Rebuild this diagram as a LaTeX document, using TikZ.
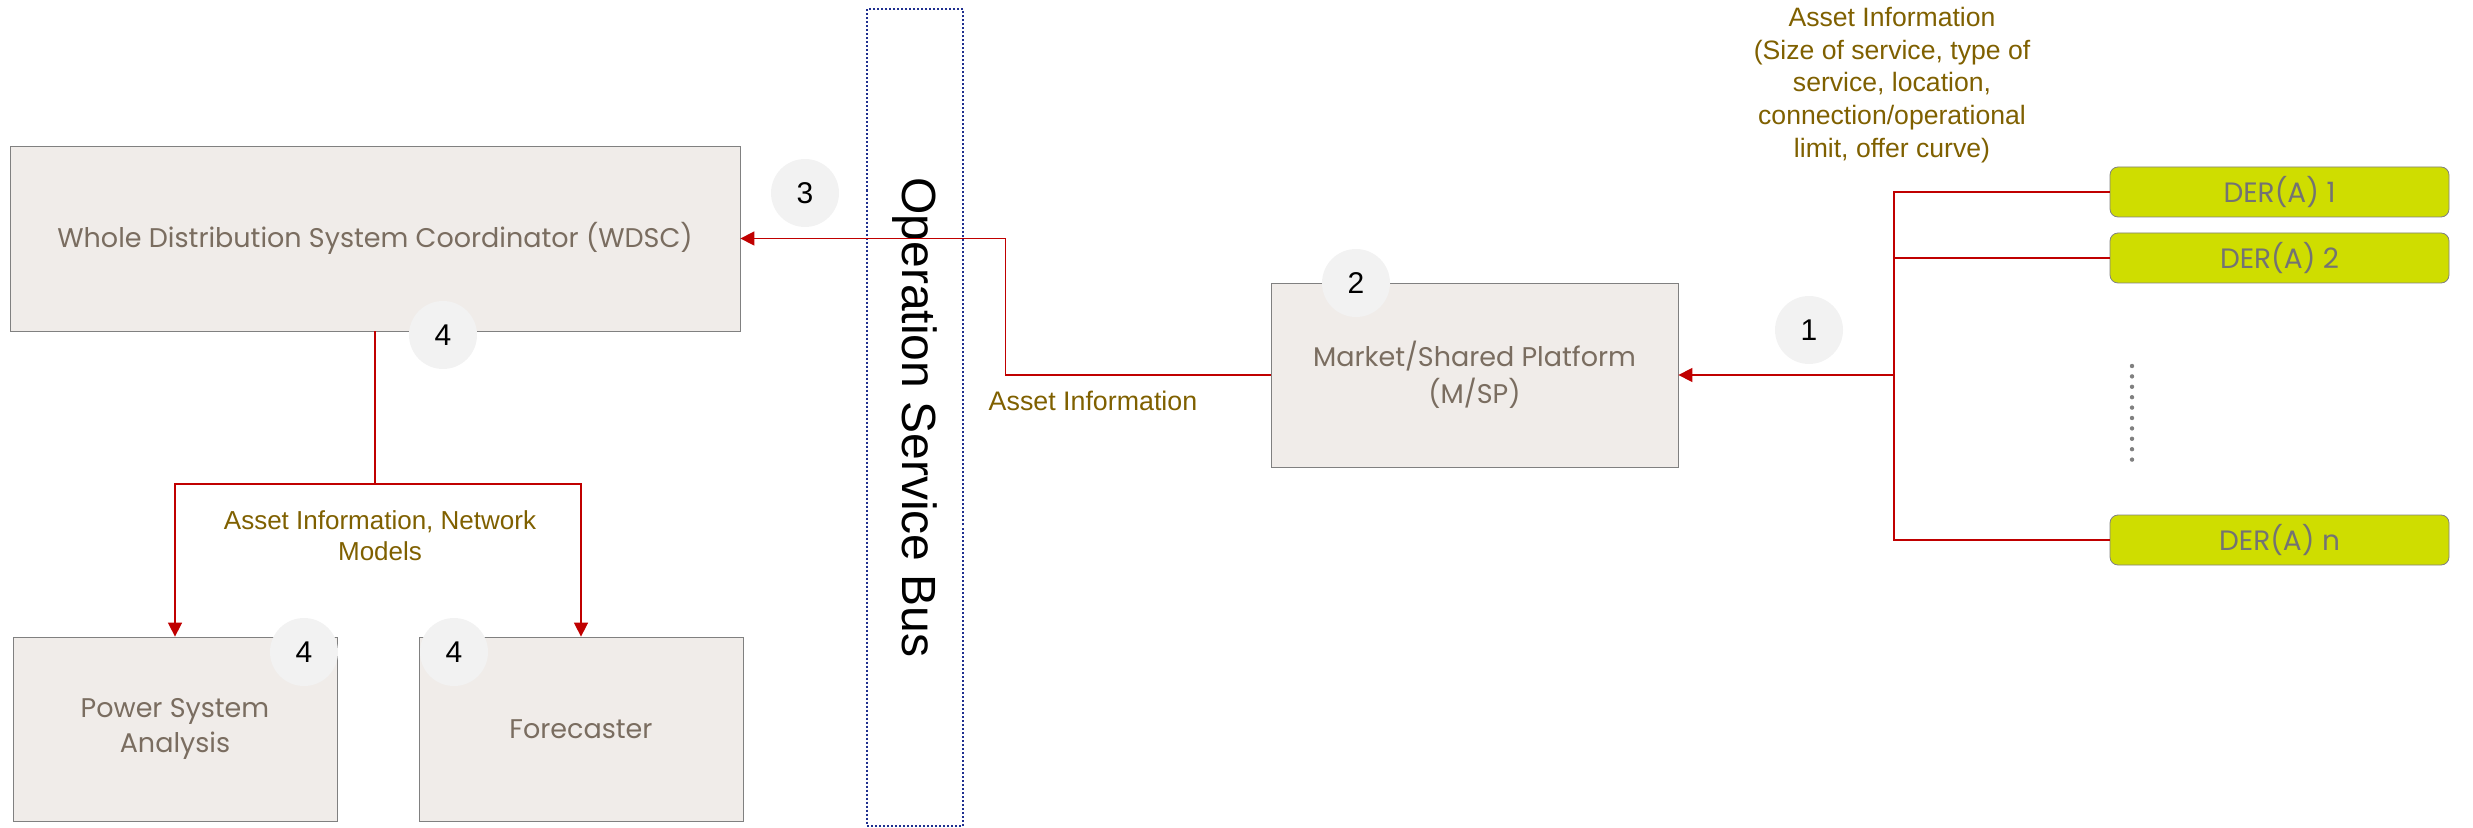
\documentclass[tikz,border=0pt]{standalone}
\usepackage{fontspec}
\setmainfont{Liberation Sans}
\newfontfamily\gothic{Poppins}
\usetikzlibrary{arrows.meta}
\definecolor{boxfill}{HTML}{F0ECE9}
\definecolor{boxtext}{HTML}{7A6D60}
\definecolor{linkred}{HTML}{C00000}
\definecolor{labelgold}{HTML}{7F6000}
\definecolor{busblue}{HTML}{1F2F8F}
\definecolor{derfill}{HTML}{CFDD00}
\definecolor{badgefill}{HTML}{F2F2F2}
\begin{document}
\begin{tikzpicture}[x=0.5pt, y=-0.5pt,
    block/.style={draw=gray, fill=boxfill, text=boxtext, align=center, inner sep=0pt,
      font=\gothic\fontsize{13.5}{18.5}\selectfont},
    der/.style={draw=gray, fill=derfill, rounded corners=4pt, minimum width=169.5pt,
      minimum height=25pt, text=black!55, font=\gothic\fontsize{14}{16}\selectfont},
    badge/.style={circle, fill=badgefill, minimum size=34pt, inner sep=0pt, font=\fontsize{15}{15}\selectfont},
    info/.style={text=labelgold, align=center, inner sep=0pt},
    wire/.style={linkred, line width=0.8pt},
    link/.style={wire, -{Triangle[length=7pt,width=7pt]}}]
  \useasboundingbox (0,0) rectangle (2473,828);
  % boxes
  \node[block, minimum width=365pt, minimum height=92.5pt] (wdsc) at (375,238.5) {Whole Distribution System Coordinator (WDSC)};
  \node[block, minimum width=203.5pt, minimum height=92pt] (msp) at (1474.5,375) {Market/Shared Platform\\(M/SP)};
  \node[block, minimum width=162pt, minimum height=92pt, font=\gothic\fontsize{13.5}{17.5}\selectfont] (psa) at (175,729) {Power System\\Analysis};
  \node[block, minimum width=162pt, minimum height=92pt] (fore) at (581,729) {Forecaster};
  \node[der] (der1) at (2279.5,192) {DER(A) 1};
  \node[der] (der2) at (2279.5,258) {DER(A) 2};
  \node[der] (dern) at (2279.5,540) {DER(A) n};
  \node[draw=busblue, densely dotted, line width=1pt, rotate=-90, minimum width=408pt, minimum height=48pt,
    font=\fontsize{24}{24}\selectfont] (bus) at (915,417.5) {Operation Service Bus};
  \foreach \k in {0,...,9}
    \fill[gray] (2132,366+10.4*\k) circle (1.1pt); % vertical dots
  % connectors
  \coordinate (trunk) at (1894,375);
  \coordinate (split) at (375,484);
  \draw[wire] (der1.west) -| (trunk);
  \draw[wire] (der2.west) -- (der2.west -| trunk);
  \draw[wire] (dern.west) -| (trunk);
  \draw[link] (trunk) -- (msp.east);
  \draw[link] (msp.west) -- ++(-265,0) |- (wdsc.east);
  \draw[wire] (wdsc.south) -- (split);
  \draw[link] (split) -| (psa.north);
  \draw[link] (split) -| (fore.north);
  % labels
  \node[info, font=\fontsize{13.3}{16.3}\selectfont] (infoder) at (1892,85) {Asset Information\\(Size of service, type of\\service, location,\\connection/operational\\limit,\ offer curve)};
  \node[info, font=\fontsize{13.4}{16}\selectfont] (infobus) at (1093,401) {Asset Information};
  \node[info, font=\fontsize{13}{15.5}\selectfont] (infonet) at (380,536) {Asset Information, Network\\Models};
  % step badges
  \node[badge] (b1) at (1809,330) {1};
  \node[badge] (b2) at (1356,283) {2};
  \node[badge] (b3) at (805,193) {3};
  \node[badge] (b4) at (443,335) {4};
  \node[badge] (b4psa) at (304,652) {4};
  \node[badge] (b4fore) at (454,652) {4};
\end{tikzpicture}
\end{document}
